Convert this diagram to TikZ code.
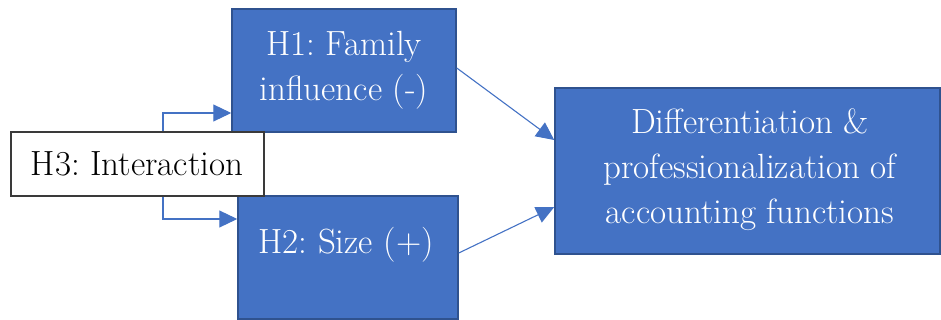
\documentclass[tikz,border=0pt]{standalone}
\usetikzlibrary{arrows.meta}
\definecolor{boxblue}{HTML}{4472C4}
\definecolor{boxedge}{HTML}{2F528F}
\definecolor{h3edge}{HTML}{3A3A3A}
\tikzset{
  bluebox/.style={draw=boxedge, line width=1.5pt, fill=boxblue, inner sep=0pt},
  whitebox/.style={draw=h3edge, line width=1.2pt, fill=white, inner sep=0pt},
  wtext/.style={text=white, align=center, font=\fontsize{35}{45}\selectfont\frenchspacing, inner sep=0pt},
  btext/.style={text=black, align=center, font=\fontsize{35}{45}\selectfont\frenchspacing, inner sep=0pt},
  arr/.style={draw=boxblue, line width=1.1pt, -{Triangle[length=18pt,width=17pt]}}
}
\begin{document}
\begin{tikzpicture}[x=1pt,y=-1pt]
\useasboundingbox (0,0) rectangle (941,320);
% boxes
\node[bluebox, minimum width=224pt, minimum height=123pt] (h1) at (344,70.5) {};
\node[bluebox, minimum width=220pt, minimum height=123pt] (h2) at (348,257.5) {};
\node[bluebox, minimum width=385pt, minimum height=166pt] (r) at (747.5,171) {};
\node[whitebox, minimum width=253pt, minimum height=64pt] (h3) at (137.5,164) {};
% arrows
\draw[arr] ([xshift=25.5pt]h3.north) |- ([yshift=-42.5pt]h1.west);
\draw[arr] ([xshift=25.5pt]h3.south) |- ([yshift=38.5pt]h2.west);
\draw[arr] ([yshift=2.5pt]h1.east) -- ([yshift=31pt]r.west);
\draw[arr] ([yshift=4.5pt]h2.east) -- ([yshift=-36pt]r.west);
% texts
\node[wtext] (t1) at (344,70) {H1: Family\\influence (-)};
\node[wtext] (t2) at (346,245) {H2: Size (+)};
\node[btext] (t3) at (137,164) {H3: Interaction};
\node[wtext] (tr) at (750,170) {Differentiation \&\\professionalization of\\accounting functions};
\end{tikzpicture}
\end{document}
